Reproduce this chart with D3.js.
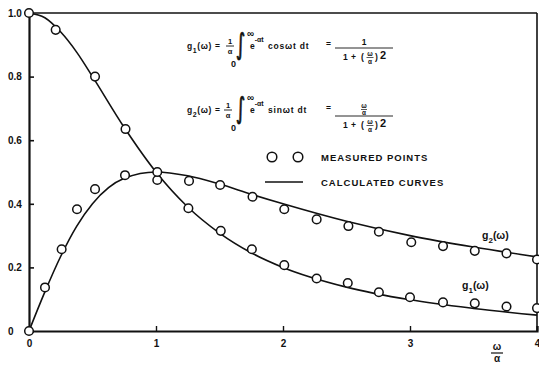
<!DOCTYPE html>
<html><head><meta charset="utf-8">
<script src="https://cdn.jsdelivr.net/npm/d3@7"></script>
<style>
html,body{margin:0;padding:0;background:#fff;}
svg{display:block;}
text{font-family:"Liberation Sans",Arial,sans-serif;font-weight:bold;fill:#111;}
</style></head><body>
<svg id="c" width="539" height="365"></svg>
<script>
// ---- data ----
const xTicks = [0, 1, 2, 3, 4];
const yTicks = [0, 0.2, 0.4, 0.6, 0.8, 1.0];
const yTickLabels = ["0", "0.2", "0.4", "0.6", "0.8", "1.0"];

// measured points g1
const g1X = [0, 0.21, 0.52, 0.76, 1.01, 1.255, 1.51, 1.755, 2.01, 2.265, 2.51, 2.755, 3.0, 3.26, 3.51, 3.76, 4.0];
const g1Y = [1.0, 0.947, 0.80, 0.635, 0.475, 0.386, 0.315, 0.257, 0.207, 0.165, 0.151, 0.122, 0.106, 0.090, 0.087, 0.077, 0.072];
// measured points g2
const g2X = [0, 0.126, 0.257, 0.378, 0.52, 0.756, 1.01, 1.26, 1.505, 1.76, 2.01, 2.265, 2.515, 2.755, 3.01, 3.26, 3.51, 3.76, 4.0];
const g2Y = [0, 0.137, 0.257, 0.383, 0.446, 0.49, 0.50, 0.472, 0.459, 0.422, 0.383, 0.351, 0.330, 0.312, 0.279, 0.267, 0.252, 0.244, 0.225];

// calculated curves
const curveX = [0, 0.125, 0.25, 0.375, 0.5, 0.75, 1.0, 1.25, 1.5, 1.75, 2.0, 2.5, 3.0, 3.5, 4.0];
const curve1Y = [1.0, 0.985, 0.94, 0.877, 0.80, 0.64, 0.50, 0.39, 0.308, 0.246, 0.20, 0.138, 0.098, 0.071, 0.05];
const curve2Y = [0, 0.123, 0.235, 0.329, 0.40, 0.48, 0.50, 0.488, 0.462, 0.43, 0.40, 0.345, 0.30, 0.264, 0.233];

const legendLabels = ["MEASURED POINTS", "CALCULATED CURVES"];

// ---- drawing ----
const svg = d3.select("#c");
const x = d3.scaleLinear().domain([0, 4]).range([29, 537]);
const y = d3.scaleLinear().domain([0, 1]).range([331, 13]);
const INK = "#111";

// frame: top & right borders
svg.append("line").attr("x1", x(0)).attr("x2", x(4)).attr("y1", y(1)).attr("y2", y(1))
  .attr("stroke", INK).attr("stroke-width", 1.6);
svg.append("line").attr("x1", x(4)).attr("x2", x(4)).attr("y1", y(1)).attr("y2", y(0))
  .attr("stroke", INK).attr("stroke-width", 1.6);

const yAxis = d3.axisLeft(y).tickValues(yTicks).tickSize(-5).tickPadding(21)
  .tickFormat((d, i) => yTickLabels[i]);
const gy = svg.append("g").attr("transform", `translate(${x(0)},0)`).call(yAxis);
gy.select(".domain").attr("stroke", INK).attr("stroke-width", 2.2);
gy.selectAll(".tick line").attr("stroke", INK).attr("stroke-width", 1.6);
gy.selectAll(".tick text").attr("text-anchor", "start").style("font-size", "10px").attr("fill", INK);

const xAxis = d3.axisBottom(x).tickValues(xTicks).tickSize(-5).tickPadding(9)
  .tickFormat(d3.format("d"));
const gx = svg.append("g").attr("transform", `translate(0,${y(0)})`).call(xAxis);
gx.select(".domain").attr("stroke", INK).attr("stroke-width", 2.2);
gx.selectAll(".tick line").attr("stroke", INK).attr("stroke-width", 1.4);
gx.selectAll(".tick text").style("font-size", "10px").attr("fill", INK);

// curves
const line = d3.line().x(d => x(d[0])).y(d => y(d[1])).curve(d3.curveMonotoneX);
svg.append("path").datum(curveX.map((v, i) => [v, curve1Y[i]]))
  .attr("d", line).attr("fill", "none").attr("stroke", INK).attr("stroke-width", 1.6);
svg.append("path").datum(curveX.map((v, i) => [v, curve2Y[i]]))
  .attr("d", line).attr("fill", "none").attr("stroke", INK).attr("stroke-width", 1.6);

// points
function pts(xs, ys) {
  svg.append("g").selectAll("circle").data(xs.map((v, i) => [v, ys[i]])).join("circle")
    .attr("cx", d => x(d[0])).attr("cy", d => y(d[1])).attr("r", 4.3)
    .attr("fill", "#fff").attr("stroke", INK).attr("stroke-width", 1.5);
}
pts(g1X, g1Y);
pts(g2X, g2Y);

// helper for text
function txt(px, py, s, size, anchor) {
  return svg.append("text").attr("x", px).attr("y", py).attr("text-anchor", anchor || "start")
    .style("font-size", size + "px").text(s);
}
function hline(x1, x2, yy, w) {
  svg.append("line").attr("x1", x1).attr("x2", x2).attr("y1", yy).attr("y2", yy)
    .attr("stroke", INK).attr("stroke-width", w);
}

// curve labels
function gLabel(px, py, sub) {
  const t = txt(px, py, "", 10.5);
  t.append("tspan").text("g");
  t.append("tspan").attr("dy", 4).style("font-size", "8px").text(sub);
  t.append("tspan").attr("dy", -4).text("(ω)");
}
gLabel(482, 239, "2");
gLabel(462, 289, "1");

// x axis label ω/α
txt(497, 350, "ω", 10, "middle");
hline(491, 503, 353, 1.2);
txt(497, 362, "α", 10, "middle");

// legend
[272, 298].forEach(cx => svg.append("circle").attr("cx", cx).attr("cy", 157).attr("r", 4.8)
  .attr("fill", "#fff").attr("stroke", INK).attr("stroke-width", 1.5));
txt(321, 161, legendLabels[0], 9.5).attr("letter-spacing", 1);
hline(265, 303, 182, 1.6);
txt(321, 186, legendLabels[1], 9.5).attr("letter-spacing", 1);

// formulas
function formula(yb, lineY, sub, trig, numIsRatio, fx) {
  const fs = 8.5;
  const t = txt(187, yb, "", fs).attr("letter-spacing", 0.6);
  t.append("tspan").text("g");
  t.append("tspan").attr("dy", 4).style("font-size", "7px").text(sub);
  t.append("tspan").attr("dy", -4).text("(ω) =");
  // 1/α
  txt(fx, yb - 5, "1", 7.5, "middle");
  hline(fx - 4, fx + 4, yb - 3, 0.9);
  txt(fx, yb + 5, "α", 7.5, "middle");
  // integral (tall)
  svg.append("text").attr("transform", `translate(236,${yb + 5}) scale(1,1.6)`)
    .style("font-size", "18px").style("font-family", "DejaVu Sans").style("font-weight", "normal")
    .attr("stroke", INK).attr("stroke-width", 0.5)
    .text("∫");
  txt(247, yb - 12, "∞", 10);
  txt(231, yb + 18, "0", 9);
  const e = txt(250, yb, "", fs);
  e.append("tspan").text("e");
  e.append("tspan").attr("dy", -7).style("font-size", "7px").text("-αt");
  txt(268, yb, trig + "ωt  dt", fs).attr("letter-spacing", 0.8);
  txt(326, yb - 2, "=", fs);
  // right fraction
  hline(335, 393, lineY, 0.9);
  if (numIsRatio) {
    txt(364, lineY - 8, "ω", 6.5, "middle");
    hline(361, 367, lineY - 6.5, 0.7);
    txt(364, lineY - 1.5, "α", 6.5, "middle");
  } else {
    txt(364, lineY - 3, "1", fs, "middle");
  }
  const db = lineY + 12;
  txt(343, db, "1", fs);
  txt(351, db, "+", fs);
  txt(361, db, "(", fs);
  txt(370, db - 4, "ω", 6.5, "middle");
  hline(366.5, 373.5, db - 2.5, 0.7);
  txt(370, db + 3.5, "α", 6.5, "middle");
  txt(375, db, ")", fs);
  txt(380, db - 1, "2", 11);
}
formula(49, 48, "1", "cos", false, 230);
formula(113, 116, "2", "sin", true, 228);
</script>
</body></html>
